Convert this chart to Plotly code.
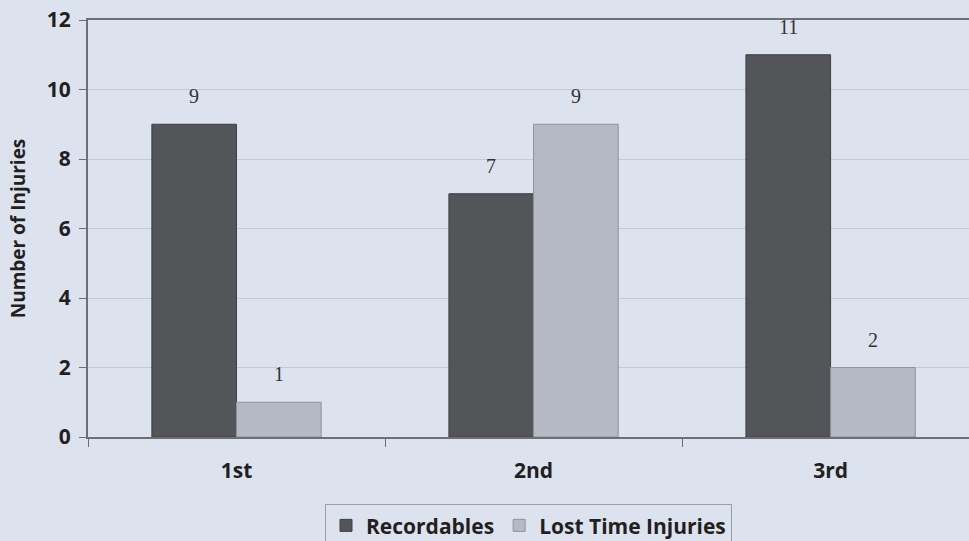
import plotly.graph_objects as go

shifts = ["1st", "2nd", "3rd"]
recordables = [9, 7, 11]
lost_time = [1, 9, 2]
y_ticks = [0, 2, 4, 6, 8, 10, 12]

bg = "#dce3ef"
tick_font = dict(family="Open Sans", size=21, color="#231f20", weight="bold")

fig = go.Figure()
fig.add_trace(go.Bar(x=shifts, y=recordables, name="Recordables",
                     marker=dict(color="#545559", line=dict(color="#3e3f42", width=1))))
fig.add_trace(go.Bar(x=shifts, y=lost_time, name="Lost Time Injuries",
                     marker=dict(color="#b4b9c4", line=dict(color="#8e939c", width=1))))

# value labels above each bar
for vals, dx in ((recordables, -42.5), (lost_time, 42.5)):
    for cat, v in zip(shifts, vals):
        fig.add_annotation(x=cat, y=v, text=str(v), showarrow=False,
                           xshift=dx, yshift=28,
                           font=dict(family="Liberation Serif", size=20, color="#333333"))

fig.update_layout(
    width=969, height=541,
    margin=dict(l=88, r=0, t=20, b=104, autoexpand=False),
    paper_bgcolor=bg, plot_bgcolor=bg,
    barmode="group", bargap=0.43, bargroupgap=0,
    showlegend=True,
    legend=dict(orientation="h", x=0.5, xanchor="center",
                yref="container", y=0.068, yanchor="top",
                font=dict(family="Open Sans", size=21, color="#231f20", weight="bold"),
                bordercolor="#9a9ea6", borderwidth=1, bgcolor=bg,
                itemwidth=30, tracegroupgap=0),
    xaxis=dict(range=[-0.5, 2.466], tickson="boundaries", ticks="outside",
               ticklen=8, tickcolor="#6d6f73", showline=True, mirror=True,
               linecolor="#6d6f73", linewidth=2, showgrid=False,
               tickfont=tick_font, ticklabelstandoff=14),
    yaxis=dict(range=[0, 12], tickvals=y_ticks, ticks="outside", ticklen=7,
               tickcolor="#6d6f73", showline=True, linecolor="#6d6f73", linewidth=2,
               gridcolor="#c3cad6", gridwidth=1, zeroline=False,
               tickfont=tick_font, ticklabelstandoff=4,
               title=dict(text="Number of Injuries", standoff=16,
                          font=dict(family="Open Sans", size=19, color="#231f20",
                                    weight="bold"))),
)

fig.write_html("out.html", config={"displayModeBar": False},
               post_script="document.body.style.margin='0';")
